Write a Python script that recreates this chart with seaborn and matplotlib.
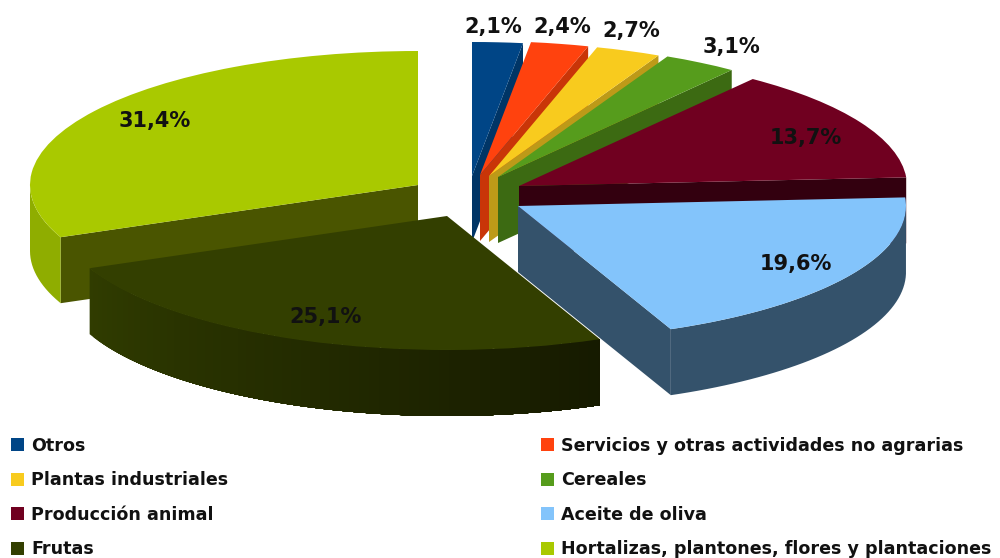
import numpy as np
import matplotlib
matplotlib.use('Agg')
import matplotlib.pyplot as plt
from matplotlib.patches import Polygon
import seaborn as sns

# Data
categories = ['Otros', 'Servicios y otras actividades no agrarias', 'Plantas industriales', 'Cereales',
              'Producción animal', 'Aceite de oliva', 'Frutas', 'Hortalizas, plantones, flores y plantaciones']
shares = [2.1, 2.4, 2.7, 3.1, 13.7, 19.6, 25.1, 31.4]

# Colors: top face, cut face, start and end of the outer rim
top_colors = ['#004586', '#ff420e', '#f8cb1e', '#569c1c', '#700020', '#83c4fb', '#333f00', '#a9c900']
cut_colors = ['#003566', '#c93508', '#bd9a18', '#3c6a12', '#33000f', '#34526b', '#2b3500', '#4a5500']
rim_start = ['#003566', '#c93508', '#bd9a18', '#3c6a12', '#33000f', '#34526b', '#303c00', '#8fad00']
rim_end = ['#003566', '#c93508', '#bd9a18', '#3c6a12', '#33000f', '#34526b', '#161a00', '#8fad00']

# Layout in pixels of the 1000x558 picture
RX, RY, DEPTH = 388.0, 134.0, 66.0
centers_px = [(472, 176), (480, 175), (489, 176), (498, 177), (519, 186), (518, 206), (447, 216), (418, 185)]
label_px = [(493, 27), (562, 27), (631, 31), (731, 47), (806, 138), (796, 264), (326, 317), (155, 121)]
paint_order = [0, 1, 2, 3, 4, 5, 7, 6]


def to_data(px, py):
    # data units are pie radii, squashed into an ellipse by the axis limits
    return px / RX, -py / RY


def face(ax, x_top, y_top, color, z):
    # side face hanging DEPTH pixels below a piece of top edge
    drop = DEPTH / RY
    xs = np.r_[x_top, x_top[::-1]]
    ys = np.r_[y_top, y_top[::-1] - drop]
    ax.add_patch(Polygon(np.c_[xs, ys], closed=True, facecolor=color, edgecolor='none', linewidth=0, zorder=z))


sns.set_theme(style='white')
plt.rcParams['font.family'] = ['DejaVu Sans']

fig = plt.figure(figsize=(10, 5.58), dpi=100)
ax = fig.add_axes([0, 0, 1, 1])
wedges, _ = ax.pie(shares, colors=top_colors, startangle=90, counterclock=False, wedgeprops={'linewidth': 0})
ax.set_aspect('auto')
ax.set_xlim(0, 1000 / RX)
ax.set_ylim(-558 / RY, 0)
ax.axis('off')

for rank, i in enumerate(paint_order):
    w = wedges[i]
    cx, cy = to_data(*centers_px[i])
    w.set_center((cx, cy))
    z = 2 + rank
    w.set_zorder(z + 0.5)

    # the two straight cuts, only where they face the viewer
    for ang, visible in ((w.theta1, np.cos(np.radians(w.theta1)) > 0), (w.theta2, np.cos(np.radians(w.theta2)) < 0)):
        if visible:
            a = np.radians(ang)
            face(ax, np.array([cx, cx + np.cos(a)]), np.array([cy, cy + np.sin(a)]), cut_colors[i], z)

    # outer rim on the lower half of the ellipse
    angles = np.radians(np.arange(w.theta1, w.theta2 + 1.5, 1.5).clip(w.theta1, w.theta2))
    angles = angles[np.sin(angles) <= 0.001]
    if len(angles) < 2:
        continue
    if rim_start[i] == rim_end[i]:
        face(ax, cx + np.cos(angles), cy + np.sin(angles), rim_start[i], z + 0.1)
    else:
        # painted from the far end, each piece running under the next one
        shades = sns.blend_palette([rim_start[i], rim_end[i]], len(angles) - 1)
        for k in range(len(angles) - 1):
            seg = angles[k:]
            face(ax, cx + np.cos(seg), cy + np.sin(seg), shades[k], z + 0.1 + k * 0.001)

for share, (px, py) in zip(shares, label_px):
    x, y = to_data(px, py)
    ax.text(x, y, f'{share:.1f}%'.replace('.', ','), ha='center', va='center',
            fontsize=15, fontweight='bold', color='#111111', zorder=20)

# Legend fills column by column, the picture reads row by row
order = [0, 2, 4, 6, 1, 3, 5, 7]
leg = ax.legend([wedges[i] for i in order], [categories[i] for i in order], ncols=2,
                loc='upper left', bbox_to_anchor=(0.011, 0.217), frameon=False,
                prop={'weight': 'bold', 'size': 12.6}, handlelength=0.75, handleheight=0.75,
                handletextpad=0.4, labelspacing=0.94, columnspacing=17.85, borderpad=0, borderaxespad=0)
leg.set_zorder(30)
for text in leg.get_texts():
    text.set_color('#111111')

plt.savefig('out.png', dpi=100)
